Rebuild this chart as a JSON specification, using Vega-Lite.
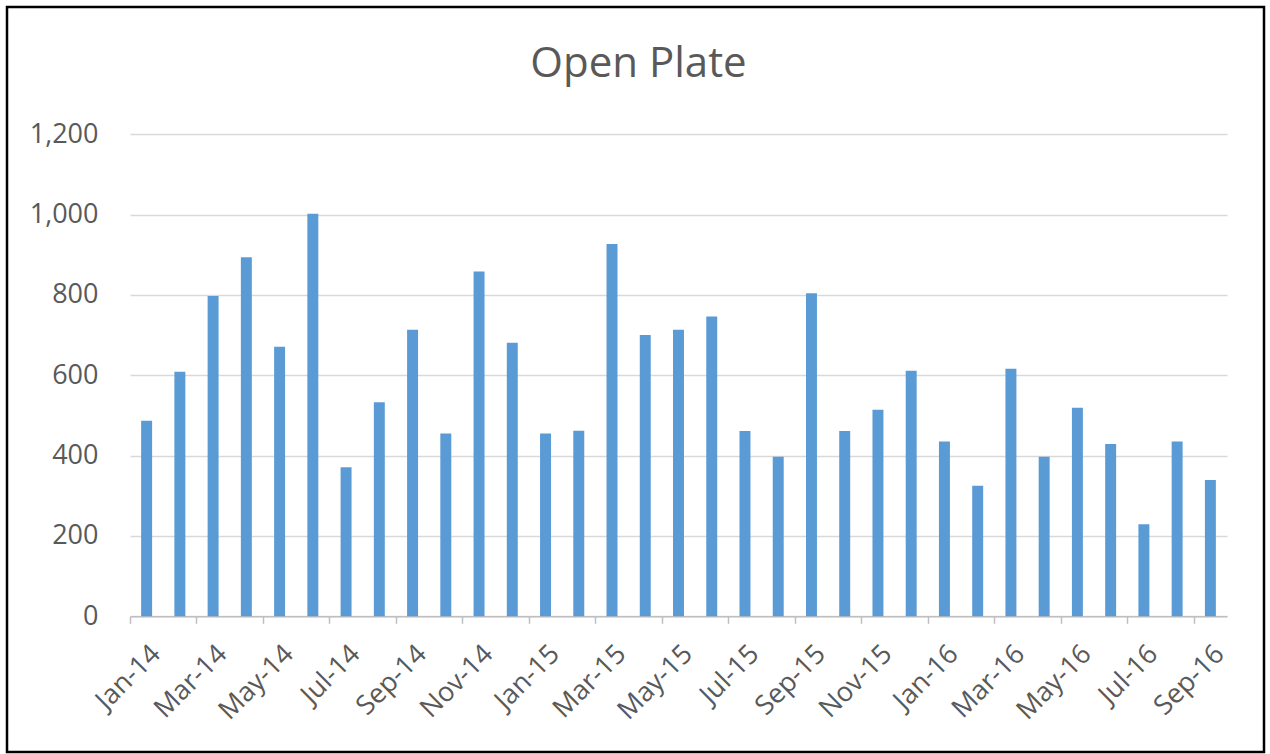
{
  "$schema": "https://vega.github.io/schema/vega-lite/v6.json",
  "autosize": "none",
  "padding": {"left": 7, "top": 7, "right": 6, "bottom": 2},
  "width": 1257,
  "height": 745,
  "background": "white",
  "config": {"view": {"stroke": "#000000", "strokeWidth": 2.5}, "font": "Open Sans"},
  "title": {"text": "Open Plate", "fontSize": 42, "font": "Open Sans", "fontWeight": "normal", "color": "#595959", "frame": "group", "anchor": "middle", "offset": -99, "baseline": "middle", "dx": 3},
  "data": {"values": [
    {"month": "Jan-14", "value": 487},
    {"month": "Feb-14", "value": 609},
    {"month": "Mar-14", "value": 797},
    {"month": "Apr-14", "value": 894},
    {"month": "May-14", "value": 671},
    {"month": "Jun-14", "value": 1002},
    {"month": "Jul-14", "value": 371},
    {"month": "Aug-14", "value": 533},
    {"month": "Sep-14", "value": 713},
    {"month": "Oct-14", "value": 455},
    {"month": "Nov-14", "value": 858},
    {"month": "Dec-14", "value": 681},
    {"month": "Jan-15", "value": 455},
    {"month": "Feb-15", "value": 462},
    {"month": "Mar-15", "value": 927},
    {"month": "Apr-15", "value": 700},
    {"month": "May-15", "value": 713},
    {"month": "Jun-15", "value": 746},
    {"month": "Jul-15", "value": 461},
    {"month": "Aug-15", "value": 397},
    {"month": "Sep-15", "value": 804},
    {"month": "Oct-15", "value": 461},
    {"month": "Nov-15", "value": 514},
    {"month": "Dec-15", "value": 611},
    {"month": "Jan-16", "value": 435},
    {"month": "Feb-16", "value": 325},
    {"month": "Mar-16", "value": 616},
    {"month": "Apr-16", "value": 397},
    {"month": "May-16", "value": 519},
    {"month": "Jun-16", "value": 429},
    {"month": "Jul-16", "value": 229},
    {"month": "Aug-16", "value": 435},
    {"month": "Sep-16", "value": 339}
  ]},
  "mark": {"type": "bar", "color": "#5b9bd5", "width": {"band": 0.33}},
  "encoding": {
    "x": {
      "field": "month", "type": "nominal", "sort": null,
      "scale": {"range": [123, 1220], "paddingInner": 0, "paddingOuter": 0},
      "axis": {
        "title": null,
        "labelAngle": -45,
        "labelFontSize": 27,
        "labelColor": "#595959",
        "labelExpr": "indexof(['Jan-14','Mar-14','May-14','Jul-14','Sep-14','Nov-14','Jan-15','Mar-15','May-15','Jul-15','Sep-15','Nov-15','Jan-16','Mar-16','May-16','Jul-16','Sep-16'], datum.label) >= 0 ? datum.label : ''",
        "labelOverlap": false,
        "labelBound": false,
        "labelPadding": 17,
        "tickBand": "extent",
        "tickColor": "#bfbfbf",
        "tickSize": 7,
        "tickWidth": 1.5,
        "tickOpacity": {"condition": {"test": "datum.extra || indexof(['Feb-14','Apr-14','Jun-14','Aug-14','Oct-14','Dec-14','Feb-15','Apr-15','Jun-15','Aug-15','Oct-15','Dec-15','Feb-16','Apr-16','Jun-16','Aug-16'], datum.value) >= 0", "value": 1}, "value": 0},
        "domainColor": "#bfbfbf",
        "domainWidth": 1.5,
        "grid": false,
        "offset": -135.7
      }
    },
    "y": {
      "field": "value", "type": "quantitative",
      "scale": {"domain": [0, 1200], "range": [609.3, 127.2]},
      "axis": {
        "title": null,
        "domain": false,
        "ticks": false,
        "values": [0, 200, 400, 600, 800, 1000, 1200],
        "format": ",d",
        "labelPadding": 32,
        "labelFontSize": 27,
        "labelColor": "#595959",
        "gridColor": "#d9d9d9",
        "gridWidth": 1.5,
        "offset": -123
      }
    }
  }
}
